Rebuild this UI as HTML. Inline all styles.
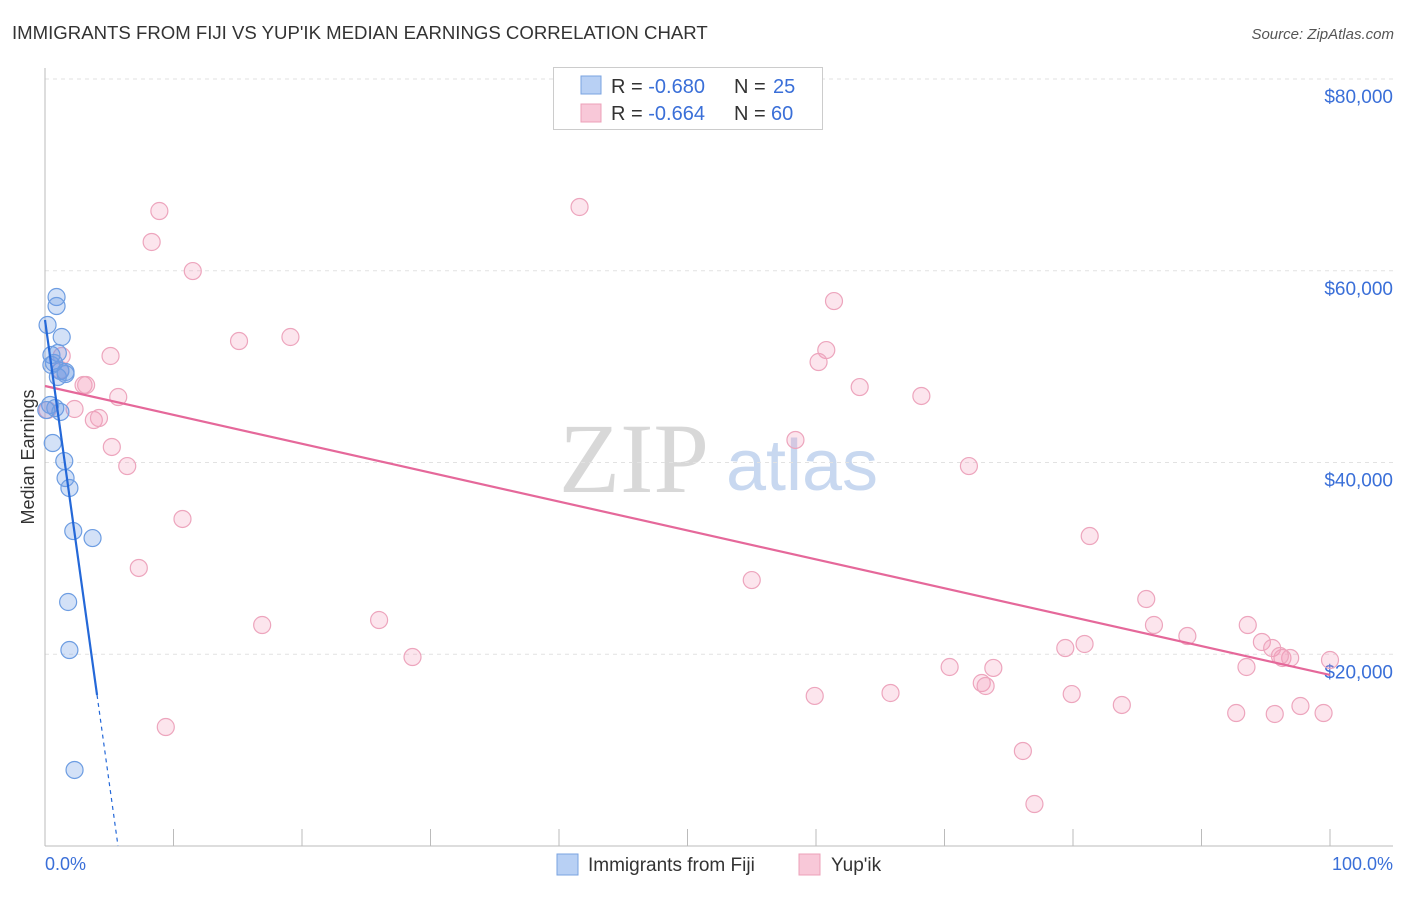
<!DOCTYPE html>
<html><head><meta charset="utf-8">
<style>
body{margin:0;background:#fff;font-family:"Liberation Sans",sans-serif;}
svg text{font-family:"Liberation Sans",sans-serif;}
</style></head>
<body>
<svg id="chart" width="1406" height="892">
<text x="12" y="39" font-size="18.6" fill="#333">IMMIGRANTS FROM FIJI VS YUP'IK MEDIAN EARNINGS CORRELATION CHART</text>
<text x="1394" y="39" font-size="15" fill="#555" text-anchor="end" font-style="italic">Source: ZipAtlas.com</text>
<g>
<text x="634" y="492" font-size="100" style="font-family:'Liberation Serif',serif" fill="#d8d8d8" text-anchor="middle">ZIP</text>
<text x="802" y="490" font-size="72" fill="#c8d8f0" text-anchor="middle">atlas</text>
</g>
<text transform="translate(34,457) rotate(-90)" font-size="18" fill="#333" text-anchor="middle">Median Earnings</text>
<g id="grid"></g>
<g id="marks"></g>
<text x="45" y="870" font-size="18" fill="#3a6fd8">0.0%</text>
<text x="1393" y="870" font-size="18" fill="#3a6fd8" text-anchor="end">100.0%</text>
<g>
<rect x="553.5" y="67.5" width="269" height="62" fill="#fff" stroke="#ccc"/>
<rect x="581" y="76" width="20" height="18" fill="#b8d0f4" stroke="#7aa3e0"/>
<rect x="581" y="104" width="20" height="18" fill="#f8c8d8" stroke="#eca0b8"/>
<text x="611" y="93" font-size="20" fill="#333">R = <tspan fill="#3a6fd8">-0.680</tspan></text>
<text x="734" y="93" font-size="20" fill="#333">N = <tspan fill="#3a6fd8" x="773">25</tspan></text>
<text x="611" y="120" font-size="20" fill="#333">R = <tspan fill="#3a6fd8">-0.664</tspan></text>
<text x="734" y="120" font-size="20" fill="#333">N = <tspan fill="#3a6fd8" x="771">60</tspan></text>
</g>
<g>
<rect x="557" y="854" width="21" height="21" fill="#b8d0f4" stroke="#7aa3e0"/>
<text x="588" y="871" font-size="19" fill="#333">Immigrants from Fiji</text>
<rect x="799" y="854" width="21" height="21" fill="#f8c8d8" stroke="#eca0b8"/>
<text x="831" y="871" font-size="19" fill="#333">Yup'ik</text>
</g>
</svg>
<script>
const yTicks=[20000,40000,60000,80000];
const yTickLabels=["$20,000","$40,000","$60,000","$80,000"];
const xTicks=[0,10,20,30,40,50,60,70,80,90,100];
const fijiX=[0.9,0.9,1.3,0.2,0.5,1.0,0.7,1.2,1.6,0.5,0.4,0.8,1.2,0.6,1.5,1.6,1.9,2.2,3.7,1.8,1.9,2.3,1.0,0.1,1.6];
const fijiY=[57260,56320,53090,54340,51210,51420,50380,49540,49230,50170,46000,45680,45270,42030,40150,38380,37340,32850,32120,25450,20440,7930,48920,45470,49440];
const yupikX=[8.9,41.6,8.3,11.5,61.4,15.1,19.1,60.8,60.2,5.1,1.3,3.0,3.2,5.7,63.4,68.2,2.3,3.8,4.2,5.2,6.4,58.4,71.9,10.7,81.3,7.3,55.0,85.7,16.9,26.0,86.3,88.9,93.6,94.7,95.5,96.3,96.9,100,79.4,80.9,28.6,70.4,73.8,93.5,72.9,73.2,59.9,65.8,79.9,83.8,92.7,95.7,97.7,99.5,9.4,76.1,77.0,1.2,0.2,96.1];
const yupikY=[66230,66650,63000,59970,56840,52670,53090,51730,50480,51110,51110,48080,48080,46830,47870,46940,45580,44430,44640,41620,39630,42350,39630,34110,32330,29000,27740,25760,23050,23570,23050,21900,23050,21280,20650,19610,19610,19400,20650,21070,19710,18670,18570,18670,17000,16690,15650,15960,15850,14710,13870,13770,14600,13870,12410,9910,4380,49650,45470,19820];
const fijiTrend=[54860,-9657,4.05];
const yupikTrend=[47980,17840];

const NS="http://www.w3.org/2000/svg";
const X=v=>45+v*12.85;
const Y=v=>846-v/20000*191.75;
function mk(tag,attrs,parent){const e=document.createElementNS(NS,tag);for(const k in attrs)e.setAttribute(k,attrs[k]);parent.appendChild(e);return e;}
const grid=document.getElementById('grid'),marks=document.getElementById('marks');
yTicks.forEach((t,i)=>{
  const l=mk('line',{x1:45,x2:1393,y1:Y(t),y2:Y(t),stroke:'#e2e2e2','stroke-dasharray':'4,4'},grid);
  
  
  const tx=mk('text',{x:1393,y:Y(t)+24,'font-size':19,fill:'#3a6fd8','text-anchor':'end'},grid);
  tx.textContent=yTickLabels[i];
  
  
});
const topLine=mk('line',{x1:45,x2:1393,y1:79,y2:79,stroke:'#e2e2e2','stroke-dasharray':'4,4'},grid);


const ya=mk('line',{x1:45,x2:45,y1:68,y2:846,stroke:'#bbb'},grid);


const xa=mk('line',{x1:45,x2:1393,y1:846,y2:846,stroke:'#bbb'},grid);


xTicks.forEach(t=>{
  const l=mk('line',{x1:X(t),x2:X(t),y1:829,y2:846,stroke:'#bbb'},grid);
  
  
});
yupikX.forEach((x,i)=>{
  const c=mk('circle',{cx:X(x),cy:Y(yupikY[i]),r:8.5,fill:'rgba(244,150,182,0.25)',stroke:'#eda5bd','stroke-width':1.2},marks);
  
  
});
fijiX.forEach((x,i)=>{
  const c=mk('circle',{cx:X(x),cy:Y(fijiY[i]),r:8.5,fill:'rgba(110,155,230,0.3)',stroke:'#6d9de2','stroke-width':1.2},marks);
  
  
});
const py=mk('line',{x1:X(0),y1:Y(yupikTrend[0]),x2:X(100),y2:Y(yupikTrend[1]),stroke:'#e5689a','stroke-width':2.2},marks);


const fe=fijiTrend[2], fz=-fijiTrend[0]/fijiTrend[1];
const fs=mk('line',{x1:X(0),y1:Y(fijiTrend[0]),x2:X(fe),y2:Y(fijiTrend[0]+fijiTrend[1]*fe),stroke:'#2468d8','stroke-width':2.2},marks);


const fd=mk('line',{x1:X(fe),y1:Y(fijiTrend[0]+fijiTrend[1]*fe),x2:X(fz),y2:Y(0),stroke:'#2468d8','stroke-width':1.2,'stroke-dasharray':'4,4'},marks);


</script>
</body></html>
